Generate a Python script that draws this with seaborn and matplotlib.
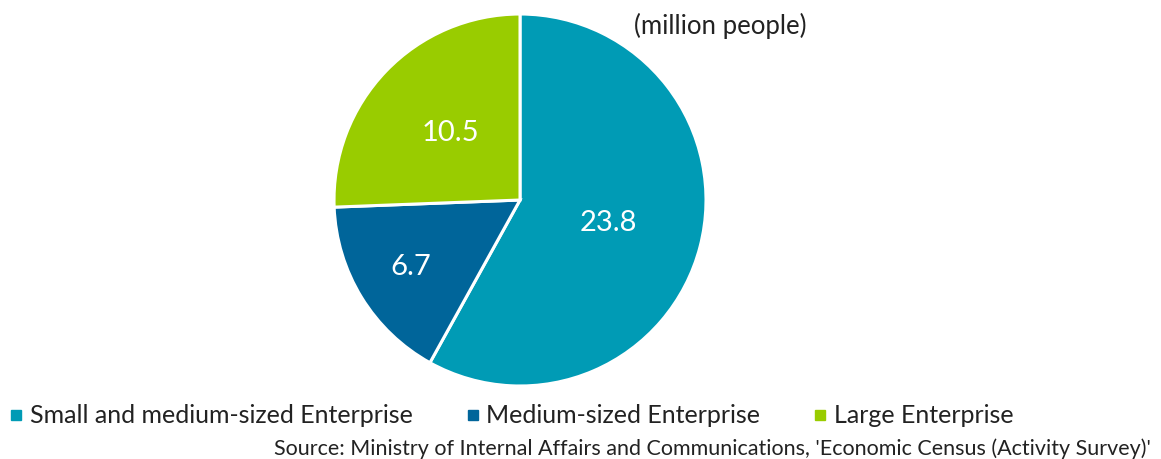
import numpy as np
import seaborn as sns
import matplotlib.pyplot as plt
from matplotlib.lines import Line2D

# %% dados
categorias = ['Small and medium-sized Enterprise', 'Medium-sized Enterprise', 'Large Enterprise']
valores = [23.8, 6.7, 10.5]
rotulos = ['23.8', '6.7', '10.5']
cores = ['#009BB5', '#00659A', '#99CC00']
dist_rotulo = [0.49, 0.69, 0.52]  # distancia do rotulo ao centro (raio = 1)

sns.set_theme(style='white')
plt.rcParams['font.family'] = ['Lato', 'DejaVu Sans']

# %% grafico
fig = plt.figure(figsize=(11.61, 4.59), dpi=100)
ax = fig.add_axes([0.2877, 0.159, 0.3204, 0.8105])

wedges, _ = ax.pie(valores, colors=cores, startangle=90, counterclock=False,
                   wedgeprops=dict(edgecolor='white', linewidth=2.2))
ax.set_xlim(-1.0, 1.0)
ax.set_ylim(-1.0, 1.0)

for w, txt, d in zip(wedges, rotulos, dist_rotulo):
    ang = np.deg2rad((w.theta1 + w.theta2) / 2)
    ax.text(d * np.cos(ang), d * np.sin(ang), txt, ha='center', va='center',
            color='white', fontsize=21)

fig.text(0.546, 0.943, '(million people)', fontsize=18.5, color='#222222',
         ha='left', va='center')

handles = [Line2D([], [], marker='s', linestyle='', color=c, markersize=6.5)
           for c in cores]
fig.legend(handles, categorias, loc='center left', bbox_to_anchor=(-0.011, 0.094),
           ncol=3, frameon=False, fontsize=18, handlelength=0.5,
           handletextpad=0.3, columnspacing=2.15, labelcolor='#222222')

fig.text(0.991, 0.022, "Source: Ministry of Internal Affairs and Communications, "
         "'Economic Census (Activity Survey)'", fontsize=15.5, color='#222222',
         ha='right', va='center')

fig.savefig('out.png', dpi=100)
